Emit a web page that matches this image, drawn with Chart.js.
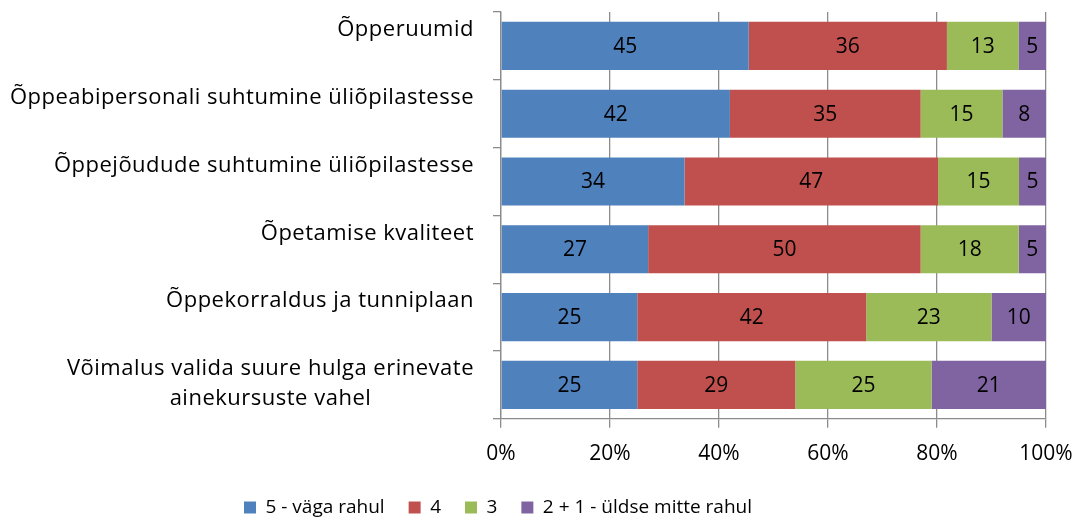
<!DOCTYPE html>
<html>
<head>
<meta charset="utf-8">
<script src="https://cdn.jsdelivr.net/npm/chart.js@4/dist/chart.umd.min.js"></script>
<style>
  body { margin: 0; background: #fff; }
  #wrap { width: 1078px; height: 520px; }
</style>
</head>
<body>
<div id="wrap"><canvas id="chart" width="1078" height="520"></canvas></div>
<script>
const categories = [
    'Õpperuumid',
    'Õppeabipersonali suhtumine üliõpilastesse',
    'Õppejõudude suhtumine üliõpilastesse',
    'Õpetamise kvaliteet',
    'Õppekorraldus ja tunniplaan',
    ['Võimalus valida suure hulga erinevate', 'ainekursuste vahel']
];
const seriesNames = ['5 - väga rahul', '4', '3', '2 + 1 - üldse mitte rahul'];
const rahul5 = [45, 42, 34, 27, 25, 25];
const rahul4 = [36, 35, 47, 50, 42, 29];
const rahul3 = [13, 15, 15, 18, 23, 25];
const rahul21 = [5, 8, 5, 5, 10, 21];
const xTicks = [0, 20, 40, 60, 80, 100];
const colors = ['#4F81BD', '#C0504D', '#9BBB59', '#8064A2'];

const raw = [rahul5, rahul4, rahul3, rahul21];
const totals = categories.map((c, i) => raw.reduce((s, arr) => s + arr[i], 0));

const fontFamily = '"Open Sans", Lato, sans-serif';
const fontSize = 21;
Chart.defaults.font.family = fontFamily;
Chart.defaults.font.size = fontSize;
Chart.defaults.color = '#000';

// numbers in the middle of each segment
const segmentLabels = {
    id: 'segmentLabels',
    afterDatasetsDraw(chart) {
        const ctx = chart.ctx;
        ctx.save();
        ctx.font = fontSize + 'px ' + fontFamily;
        ctx.fillStyle = '#000';
        ctx.textAlign = 'center';
        ctx.textBaseline = 'middle';
        chart.data.datasets.forEach((ds, di) => {
            chart.getDatasetMeta(di).data.forEach((bar, i) => {
                const p = bar.getProps(['x', 'y', 'base'], true);
                ctx.fillText(String(ds.raw[i]), (p.x + p.base) / 2, p.y + 1);
            });
        });
        ctx.restore();
    }
};

// category labels: right edge fixed, lines centred on each other, first line above bar centre
const categoryLabels = {
    id: 'categoryLabels',
    afterDraw(chart) {
        const ctx = chart.ctx;
        const yScale = chart.scales.y;
        const right = yScale.right - 27;
        ctx.save();
        ctx.font = '22px ' + fontFamily;
        ctx.letterSpacing = '0.5px';
        ctx.fillStyle = '#000';
        ctx.textAlign = 'center';
        ctx.textBaseline = 'middle';
        categories.forEach((label, i) => {
            const lines = Array.isArray(label) ? label : [label];
            const w = Math.max(...lines.map(l => ctx.measureText(l).width));
            const cx = right - w / 2;
            const cy = yScale.getPixelForTick(i);
            lines.forEach((line, k) => {
                ctx.fillText(line, cx, cy - 16 + k * 30);
            });
        });
        ctx.restore();
    }
};

// legend: tighter to the axis labels and shifted left, like the original
const legendSpacing = {
    id: 'legendSpacing',
    afterInit(chart) {
        const legend = chart.legend;
        const fit = legend.fit.bind(legend);
        const draw = legend.draw.bind(legend);
        legend.fit = function () {
            fit();
            this.height -= 20;
        };
        legend.draw = function () {
            const boxes = this.legendHitBoxes || [];
            let dx = 0;
            if (boxes.length) {
                const left = Math.min(...boxes.map(b => b.left));
                const right = Math.max(...boxes.map(b => b.left + b.width));
                dx = 498 - (left + right) / 2;
            }
            const saved = { top: this.top, bottom: this.bottom, left: this.left, right: this.right };
            this.top -= 7;
            this.bottom += 20;
            this.left += dx;
            this.right += dx;
            draw();
            Object.assign(this, saved);
        };
    }
};

const ctx = document.getElementById('chart').getContext('2d');
let chart = new Chart(ctx, {
    type: 'bar',
    data: {
        labels: categories,
        datasets: raw.map((arr, k) => ({
            label: seriesNames[k],
            raw: arr,
            data: arr.map((v, i) => v / totals[i] * 100),
            backgroundColor: colors[k],
            borderWidth: 0,
            categoryPercentage: 1,
            barPercentage: 0.71
        }))
    },
    options: {
        indexAxis: 'y',
        responsive: false,
        animation: false,
        layout: { padding: { top: 12, right: 0, bottom: 6, left: 0 } },
        scales: {
            x: {
                stacked: true,
                min: 0,
                max: 100,
                afterBuildTicks(scale) {
                    scale.ticks = xTicks.map(v => ({ value: v }));
                },
                afterFit(scale) { scale.paddingRight = 32; },
                ticks: {
                    callback: v => v + '%',
                    padding: 14,
                    maxRotation: 0
                },
                grid: { color: '#8c8c8c', tickLength: 9, lineWidth: 1.3 },
                border: { color: '#8c8c8c', width: 1.3 }
            },
            y: {
                stacked: true,
                afterFit(scale) { scale.width = 501; },
                ticks: { display: false },
                grid: { drawOnChartArea: false, color: '#8c8c8c', tickLength: 8, lineWidth: 1.3 },
                border: { color: '#8c8c8c', width: 1.3 }
            }
        },
        plugins: {
            legend: {
                position: 'bottom',
                labels: {
                    boxWidth: 12,
                    boxHeight: 12,
                    padding: 24,
                    font: { size: 19 }
                }
            },
            tooltip: { enabled: false }
        }
    },
    plugins: [segmentLabels, categoryLabels, legendSpacing]
});
</script>
</body>
</html>
